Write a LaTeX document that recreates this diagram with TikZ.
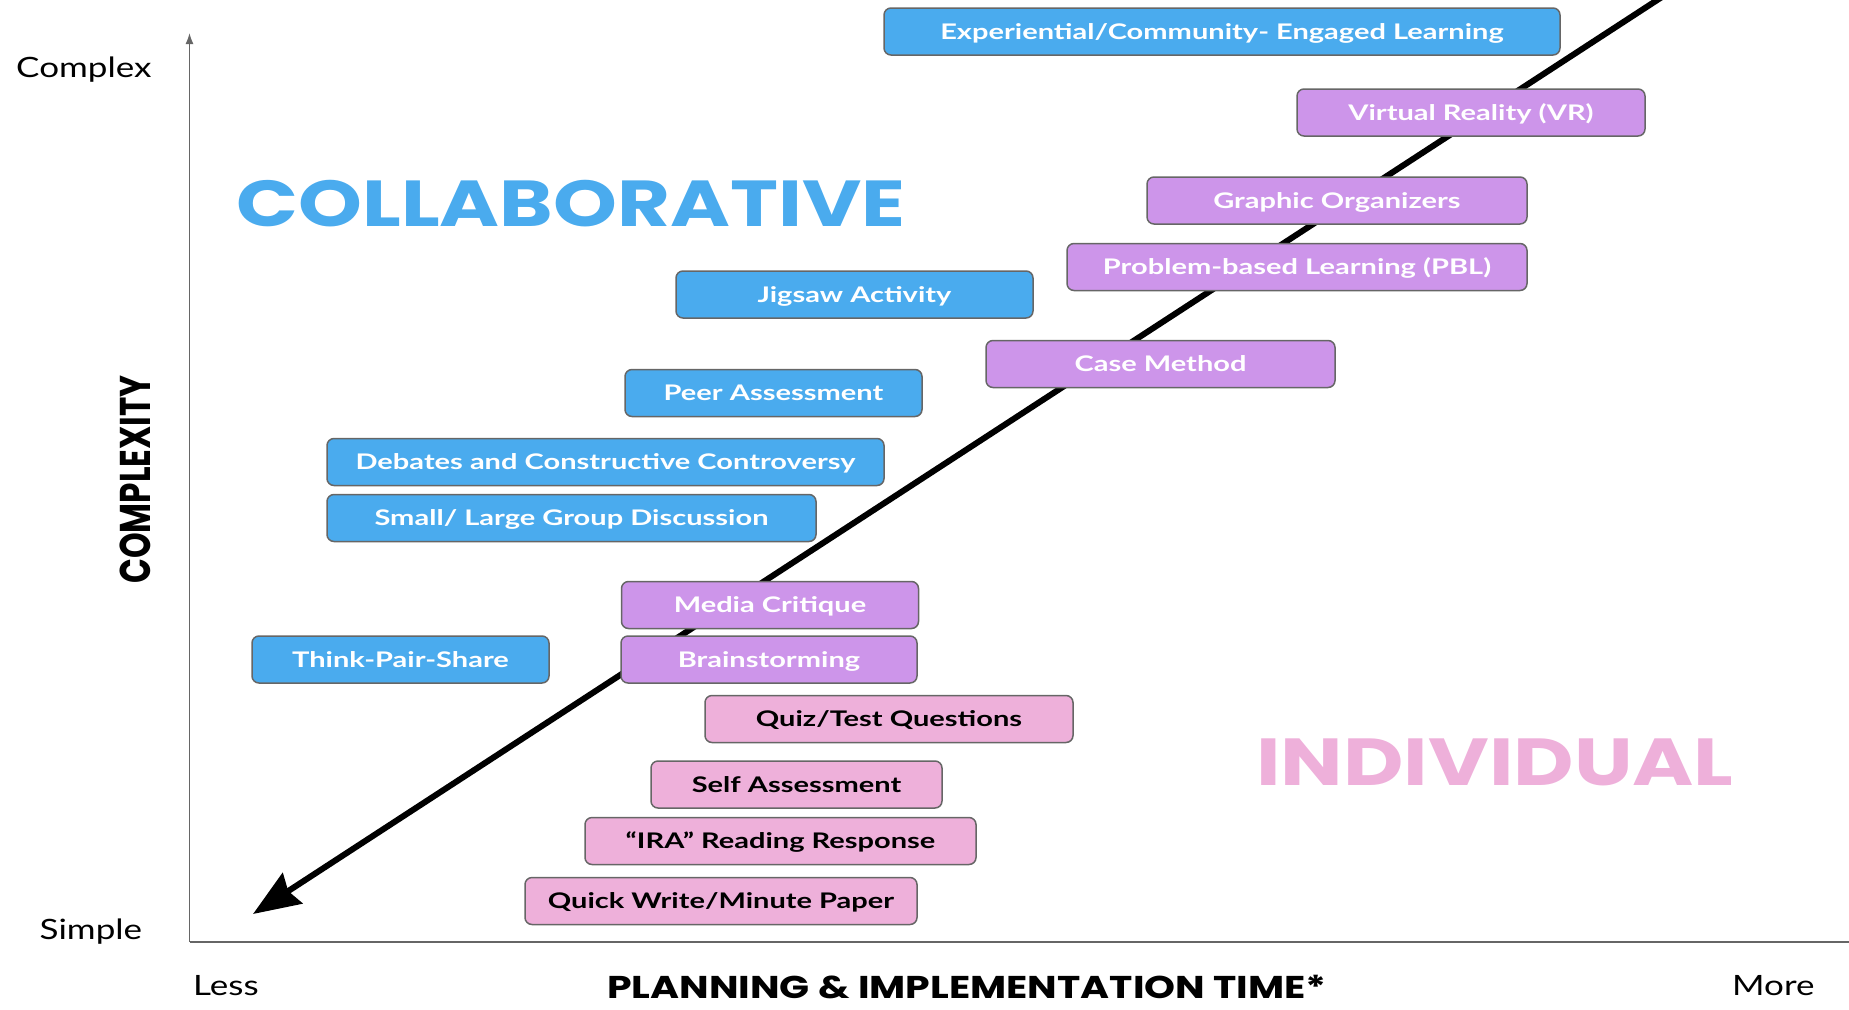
\documentclass[tikz,border=0pt]{standalone}
\usepackage{fontspec}
\setmainfont{Lato}
\newfontfamily\lblfont[FakeStretch=1.25]{Lato}
\newfontfamily\boxfont[FakeStretch=1.35]{Lato}
\newfontfamily\hdfont[FakeStretch=1.25]{Poppins}
\newfontfamily\vhdfont[FakeStretch=0.76]{Poppins}
\usetikzlibrary{arrows.meta}

\definecolor{collabblue}{HTML}{4AABEE}
\definecolor{mixpurple}{HTML}{CD95EA}
\definecolor{indivpink}{HTML}{EEB0DA}
\definecolor{edgegray}{HTML}{666666}

\tikzset{
  box/.style={draw=edgegray, line width=1.5pt, rounded corners=7pt,
    minimum height=47pt, inner sep=0pt, text height=15.4pt, text depth=0pt,
    font=\boxfont\bfseries\fontsize{21.5}{25}\selectfont},
  collab/.style={box, fill=collabblue, text=white},
  mixed/.style={box, fill=mixpurple, text=white},
  indiv/.style={box, fill=indivpink, text=black},
  lbl/.style={inner sep=0pt, font=\lblfont\fontsize{28}{28}\selectfont},
  axis/.style={draw=edgegray, line width=1.5pt},
}

\begin{document}
\begin{tikzpicture}[x=1pt,y=-1pt]
\useasboundingbox (0,0) rectangle (1849,1009);

% axes
\coordinate (origin) at (189.5,942);
\coordinate (ytop) at (189.5,33);
\coordinate (xend) at (1849,942);
\draw[axis, -{Latex[length=11pt,width=8pt]}] (origin) -- (ytop);
\draw[axis] (origin) -- (xend);

\node[lbl, anchor=base west] (complex) at (16,77) {Complex};
\node[lbl, anchor=base west] (simple) at (39.5,939) {Simple};
\node[lbl, anchor=base west] (less) at (193,995) {Less};
\node[lbl, anchor=base west] (more) at (1732,995) {More};
\node[rotate=90, inner sep=0pt, font=\vhdfont\bfseries\fontsize{43}{43}\selectfont]
  (complexity) at (135,479.5) {COMPLEXITY};
\node[anchor=base, inner sep=0pt, font=\hdfont\bfseries\fontsize{31.5}{31.5}\selectfont]
  (timelbl) at (967,998) {PLANNING \& IMPLEMENTATION TIME*};

% group titles
\node[inner sep=0pt, text=collabblue, font=\hdfont\bfseries\fontsize{65}{65}\selectfont]
  (collabtitle) at (571,204) {COLLABORATIVE};
\node[inner sep=0pt, text=indivpink, font=\hdfont\bfseries\fontsize{66.5}{66.5}\selectfont]
  (indivtitle) at (1495,762.5) {INDIVIDUAL};

% trend arrow (behind the boxes)
\coordinate (trendtop) at (1688,-20);
\coordinate (trendtip) at (253,914);
\draw[line width=6pt, -{Stealth[length=47pt,width=36pt,inset=5pt]}] (trendtop) -- (trendtip);

% strategies
\node[collab, minimum width=676pt] (experiential) at (1222,31.5) {Experiential/Community- Engaged Learning};
\node[mixed, minimum width=348pt] (vr) at (1471,112.5) {Virtual Reality (VR)};
\node[mixed, minimum width=380pt] (organizers) at (1337,200.5) {Graphic Organizers};
\node[mixed, minimum width=460pt] (pbl) at (1297,267) {Problem-based Learning (PBL)};
\node[collab, minimum width=357pt] (jigsaw) at (854.5,294.5) {Jigsaw Activity};
\node[mixed, minimum width=349pt] (casemethod) at (1160.5,364) {Case Method};
\node[collab, minimum width=297pt] (peer) at (773.5,393) {Peer Assessment};
\node[collab, minimum width=557pt] (debates) at (605.5,462) {Debates and Constructive Controversy};
\node[collab, minimum width=489pt] (discussion) at (571.5,518) {Small/ Large Group Discussion};
\node[mixed, minimum width=297pt] (critique) at (770,605) {Media Critique};
\node[collab, minimum width=297pt] (tps) at (400.5,659.5) {Think-Pair-Share};
\node[mixed, minimum width=296pt] (brainstorm) at (769,659.5) {Brainstorming};
\node[indiv, minimum width=368pt] (quiz) at (889,719) {Quiz/Test Questions};
\node[indiv, minimum width=291pt] (selfassess) at (796.5,784.5) {Self Assessment};
\node[indiv, minimum width=391pt] (ira) at (780.5,841) {“IRA” Reading Response};
\node[indiv, minimum width=392pt] (quickwrite) at (721,901) {Quick Write/Minute Paper};
\end{tikzpicture}
\end{document}
